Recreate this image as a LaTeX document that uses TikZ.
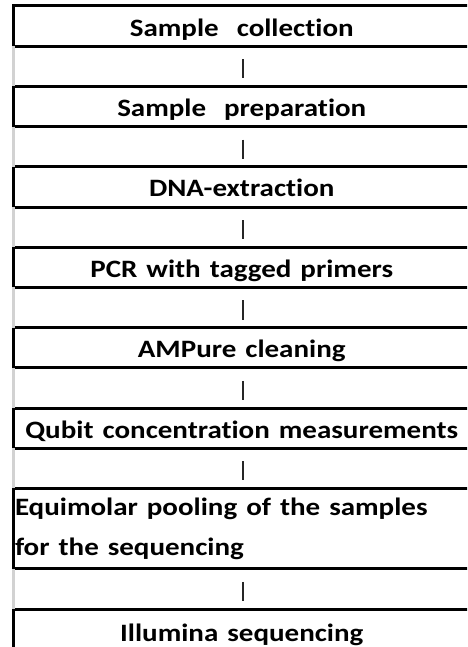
\documentclass[tikz,border=0pt]{standalone}
\usepackage{fontspec}
\setmainfont{Carlito}[FakeStretch=1.16, Ligatures=NoCommon]
\begin{document}
\begin{tikzpicture}[x=1pt, y=-1pt, every node/.style={font=\bfseries\fontsize{25}{40.2}\selectfont},
  stepbox/.style={anchor=north west, outer sep=0pt, inner sep=0pt, minimum width=456.5pt, minimum height=40.2pt,
    text height=20pt, text depth=0pt, execute at begin node={\spaceskip=9pt\relax}},
  frame/.style={line width=3pt},
  link/.style={line width=2pt, black!85, shorten <=13pt, shorten >=8pt},
  rail/.style={line width=3pt, gray!35}]
  \path[use as bounding box, clip] (0,0) rectangle (467,647);
  \node[stepbox] (coll) at (13.5,6) {Sample\ \ collection};
  \node[stepbox] (prep) at (13.5,86.4) {Sample\ \ preparation};
  \node[stepbox] (dna) at (13.5,166.8) {DNA-extraction};
  \node[stepbox] (pcr) at (13.5,247.2) {PCR with tagged primers};
  \node[stepbox] (amp) at (13.5,327.6) {AMPure cleaning};
  \node[stepbox] (qubit) at (13.5,408) {Qubit concentration measurements};
  \node[stepbox, minimum height=80.4pt, text height=, text depth=, text width=453.5pt, inner xsep=1.5pt, align=left] (pool) at (13.5,488.4) {Equimolar pooling of the samples\\for the sequencing};
  \node[stepbox, minimum height=44pt] (illu) at (13.5,609) {Illumina sequencing};
  % boxes are open on the right
  \foreach \n in {coll,prep,dna,pcr,amp,qubit,pool,illu}
    \draw[frame] (\n.north east) -- (\n.north west) -- (\n.south west) -- (\n.south east);
  % left rail between boxes
  \draw[rail] (coll.south west) -- (prep.north west);
  \draw[rail] (prep.south west) -- (dna.north west);
  \draw[rail] (dna.south west) -- (pcr.north west);
  \draw[rail] (pcr.south west) -- (amp.north west);
  \draw[rail] (amp.south west) -- (qubit.north west);
  \draw[rail] (qubit.south west) -- (pool.north west);
  \draw[rail] (pool.south west) -- (illu.north west);
  % short bars between steps
  \draw[link] ([xshift=1pt]coll.south) -- ([xshift=1pt]prep.north);
  \draw[link] ([xshift=1pt]prep.south) -- ([xshift=1pt]dna.north);
  \draw[link] ([xshift=1pt]dna.south) -- ([xshift=1pt]pcr.north);
  \draw[link] ([xshift=1pt]pcr.south) -- ([xshift=1pt]amp.north);
  \draw[link] ([xshift=1pt]amp.south) -- ([xshift=1pt]qubit.north);
  \draw[link] ([xshift=1pt]qubit.south) -- ([xshift=1pt]pool.north);
  \draw[link] ([xshift=1pt]pool.south) -- ([xshift=1pt]illu.north);
\end{tikzpicture}
\end{document}
